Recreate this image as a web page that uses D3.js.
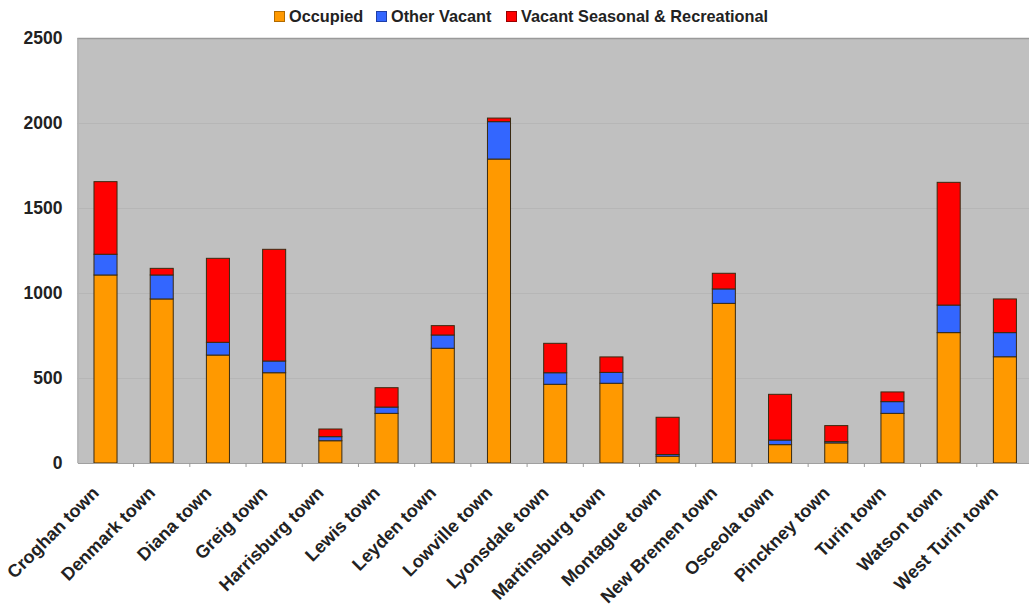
<!DOCTYPE html>
<html>
<head>
<meta charset="utf-8">
<script src="https://cdn.jsdelivr.net/npm/d3@7/dist/d3.min.js"></script>
<style>
  html, body { margin: 0; padding: 0; background: #fff; }
  svg { display: block; font-family: "Liberation Sans", Arial, sans-serif; }
</style>
</head>
<body>
<svg id="chart" width="1029" height="607"></svg>
<script>
// Housing units by town
const towns = ["Croghan town", "Denmark town", "Diana town", "Greig town", "Harrisburg town",
  "Lewis town", "Leyden town", "Lowville town", "Lyonsdale town", "Martinsburg town",
  "Montague town", "New Bremen town", "Osceola town", "Pinckney town", "Turin town",
  "Watson town", "West Turin town"];
const occupied =     [1106, 965, 635, 531, 131, 292, 675, 1788, 463, 469, 40, 939, 108, 118, 292, 767, 625];
const otherVacant =  [122, 141, 75, 69, 24, 37, 78, 220, 68, 64, 10, 85, 27, 8, 69, 162, 142];
const seasonal =     [427, 39, 494, 657, 45, 114, 55, 21, 173, 91, 219, 92, 269, 94, 57, 722, 198];
const seriesNames = ["Occupied", "Other Vacant", "Vacant Seasonal & Recreational"];
const yTicks = [0, 500, 1000, 1500, 2000, 2500];

const colors = ["#ff9900", "#3366ff", "#ff0000"];
const legendBorders = ["#b06a00", "#1f3fa8", "#9a0000"];

const svg = d3.select("#chart");
const margin = { left: 77.4, top: 38, right: -4, bottom: 144 };
const W = 1029, H = 607;
const x0 = margin.left, x1 = W - margin.right, y0 = H - margin.bottom, y1 = margin.top;

const x = d3.scaleBand().domain(towns).range([x0, x1]).paddingInner(0.59).paddingOuter(0.295);
const y = d3.scaleLinear().domain([0, 2500]).range([y0, y1]);

// plot area
svg.append("rect").attr("x", x0).attr("y", y1).attr("width", x1 - x0).attr("height", y0 - y1)
  .attr("fill", "#c0c0c0");
svg.append("line").attr("x1", x0).attr("x2", x1).attr("y1", y1 + 0.5).attr("y2", y1 + 0.5)
  .attr("stroke", "#9a9a9a").attr("stroke-width", 1.5);
svg.append("line").attr("x1", x0 + 0.5).attr("x2", x0 + 0.5).attr("y1", y1).attr("y2", y0)
  .attr("stroke", "#a8a8a8");

// gridlines
svg.append("g").selectAll("line").data(yTicks.filter(t => t > 0 && t < 2500)).join("line")
  .attr("x1", x0).attr("x2", x1)
  .attr("y1", d => Math.round(y(d)) + 0.5).attr("y2", d => Math.round(y(d)) + 0.5)
  .attr("stroke", "#b6b6b6").attr("stroke-width", 1);

// y axis labels
const yAxis = d3.axisLeft(y).tickValues(yTicks).tickFormat(d3.format("d")).tickSize(0).tickPadding(15);
const gy = svg.append("g").attr("transform", `translate(${x0},0)`).call(yAxis);
gy.select(".domain").remove();
gy.selectAll("text").attr("font-size", 17.5).attr("font-weight", "bold").attr("fill", "#222")
  .attr("font-family", "Liberation Sans, Arial, sans-serif");

// stacked bars
const rows = towns.map((t, i) => ({ town: t, a: occupied[i], b: otherVacant[i], c: seasonal[i] }));
const stack = d3.stack().keys(["a", "b", "c"]);
const layers = stack(rows);
svg.append("g").selectAll("g").data(layers).join("g")
  .attr("fill", (d, i) => colors[i])
  .selectAll("rect").data(d => d).join("rect")
  .attr("x", d => x(d.data.town))
  .attr("width", x.bandwidth())
  .attr("y", d => y(d[1]))
  .attr("height", d => y(d[0]) - y(d[1]))
  .attr("stroke", "#3a2a10").attr("stroke-width", 1);

// x axis
const xAxis = d3.axisBottom(x).tickSize(0).tickFormat("");
const gx = svg.append("g").attr("transform", `translate(0,${y0})`).call(xAxis);
gx.select(".domain").attr("stroke", "#a0a0a0");
// category boundary ticks
const bounds = d3.range(1, towns.length).map(i => x0 + i * x.step());
svg.append("g").selectAll("line").data(bounds).join("line")
  .attr("x1", d => d).attr("x2", d => d).attr("y1", y0).attr("y2", y0 + 4)
  .attr("stroke", "#999");

svg.append("g").selectAll("text").data(towns).join("text")
  .attr("transform", d => `translate(${x(d) + x.bandwidth() / 2 - 5.5},${y0 + 31}) rotate(-45)`)
  .attr("text-anchor", "end")
  .attr("font-size", 18).attr("font-weight", "bold").attr("fill", "#222")
  .text(d => d);

// legend
const legendX = [274, 376, 506];
const lg = svg.append("g").selectAll("g").data(seriesNames).join("g")
  .attr("transform", (d, i) => `translate(${legendX[i]},11)`);
lg.append("rect").attr("x", 0.5).attr("y", 0.5).attr("width", 10).attr("height", 10)
  .attr("fill", (d, i) => colors[i]).attr("stroke", (d, i) => legendBorders[i]);
lg.append("text").attr("x", 15).attr("y", 11)
  .attr("font-size", 16.3).attr("font-weight", "bold").attr("fill", "#222")
  .text(d => d);
</script>
</body>
</html>
